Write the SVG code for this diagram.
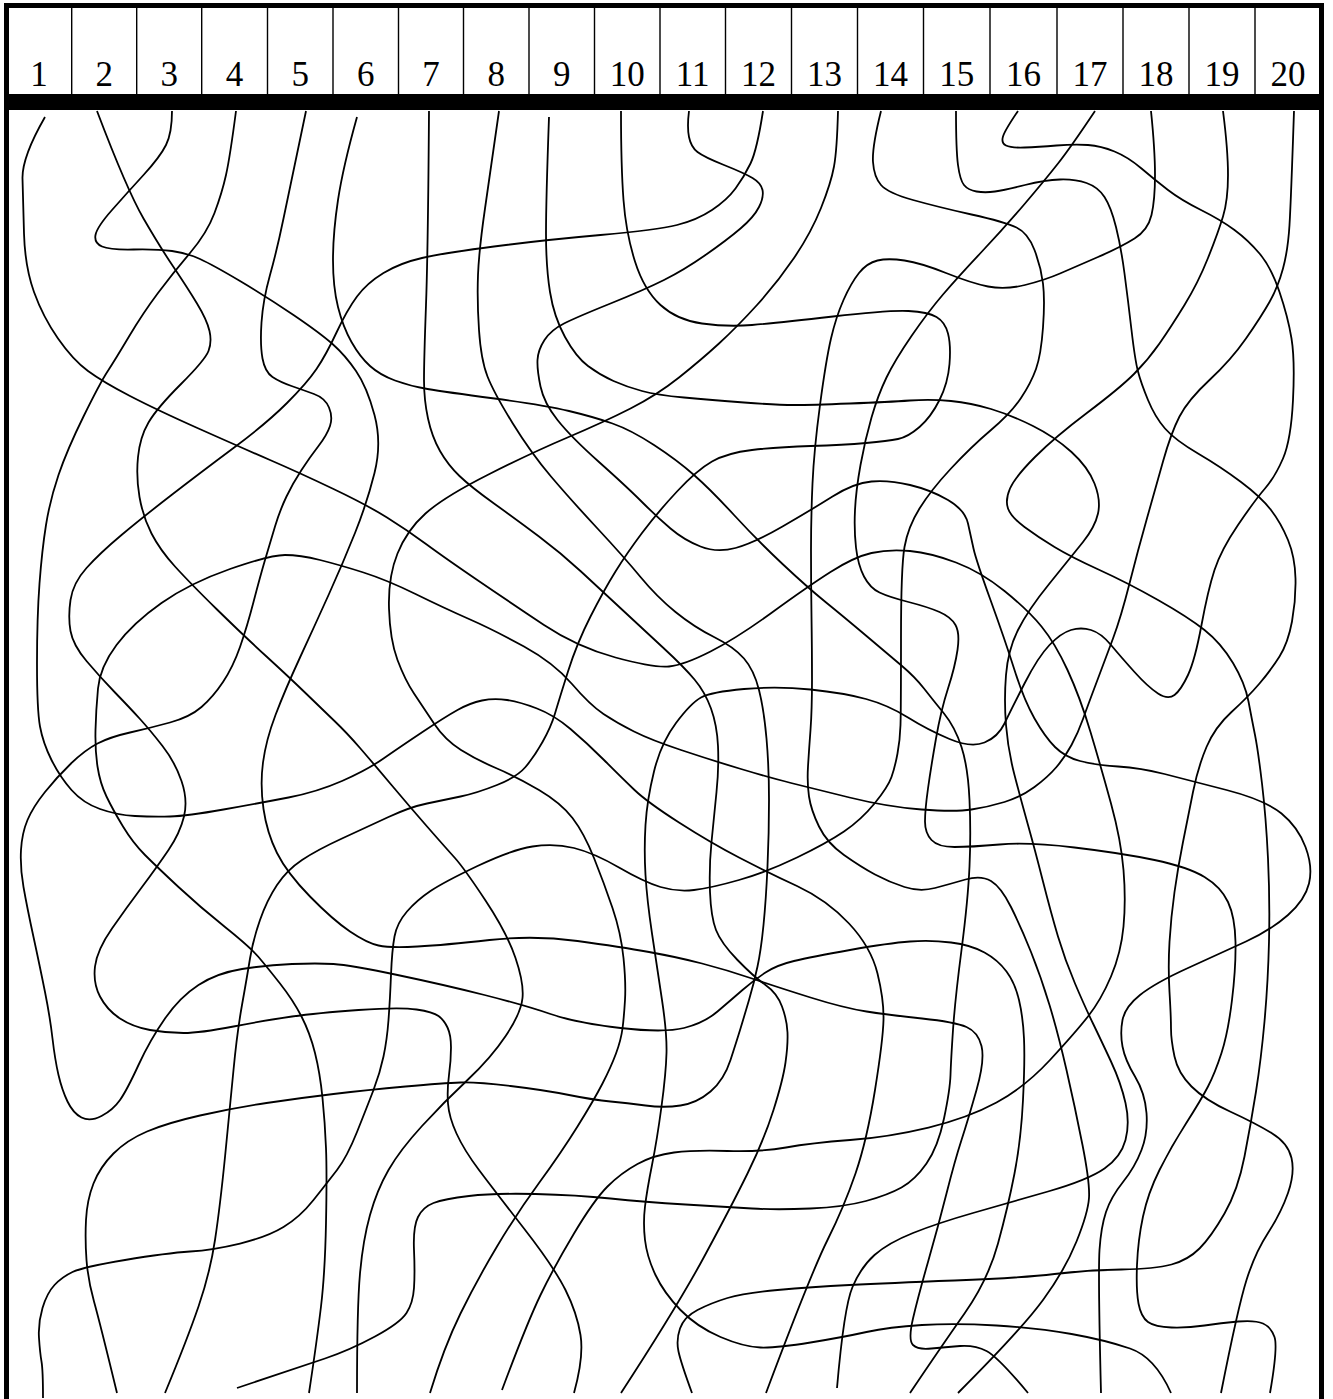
<svg xmlns="http://www.w3.org/2000/svg" width="1333" height="1399" viewBox="0 0 1333 1399">
<style>
.frame{fill:#000}
.div{stroke:#000;stroke-width:1.4;fill:none}
.num{font-family:"Liberation Serif","Times New Roman",serif;font-size:35px;text-anchor:middle;fill:#000}
.ln{fill:none;stroke:#000;stroke-width:1.8;stroke-linejoin:round}
</style>
<rect width="1333" height="1399" fill="#fff"/>
<g id="frame" class="frame">
<rect x="4" y="3" width="1320" height="5"/>
<rect x="4" y="3" width="5" height="1396"/>
<rect x="1319" y="3" width="5" height="1396"/>
<rect x="4" y="94" width="1320" height="16"/>
<path class="div" d="M71.7 8V94M136.7 8V94M201.7 8V94M267.5 8V94M333 8V94M398.5 8V94M463.5 8V94M529 8V94M594.5 8V94M660 8V94M725.5 8V94M791.5 8V94M857.5 8V94M923.5 8V94M990 8V94M1057 8V94M1123 8V94M1189 8V94M1255 8V94"/>
</g>
<g id="header">
<g id="cell-1"><text class="num" x="39" y="86">1</text></g>
<g id="cell-2"><text class="num" x="104.2" y="86">2</text></g>
<g id="cell-3"><text class="num" x="169.2" y="86">3</text></g>
<g id="cell-4"><text class="num" x="234.6" y="86">4</text></g>
<g id="cell-5"><text class="num" x="300.2" y="86">5</text></g>
<g id="cell-6"><text class="num" x="365.7" y="86">6</text></g>
<g id="cell-7"><text class="num" x="431" y="86">7</text></g>
<g id="cell-8"><text class="num" x="496.2" y="86">8</text></g>
<g id="cell-9"><text class="num" x="561.7" y="86">9</text></g>
<g id="cell-10"><text class="num" x="627.2" y="86">10</text></g>
<g id="cell-11"><text class="num" x="692.7" y="86">11</text></g>
<g id="cell-12"><text class="num" x="758.5" y="86">12</text></g>
<g id="cell-13"><text class="num" x="824.5" y="86">13</text></g>
<g id="cell-14"><text class="num" x="890.5" y="86">14</text></g>
<g id="cell-15"><text class="num" x="956.7" y="86">15</text></g>
<g id="cell-16"><text class="num" x="1023.5" y="86">16</text></g>
<g id="cell-17"><text class="num" x="1090" y="86">17</text></g>
<g id="cell-18"><text class="num" x="1156" y="86">18</text></g>
<g id="cell-19"><text class="num" x="1222" y="86">19</text></g>
<g id="cell-20"><text class="num" x="1288" y="86">20</text></g>
</g>
<g id="connectors">
<path id="line-1" class="ln" d="M45,117 Q22,157 22.5,178.5 Q23,200 24,233.5 Q25,267 34,292 Q43,317 58,338.5 Q73,360 88,371 Q103,382 130,396 Q157,410 198.5,428.5 Q240,447 270,460 Q300,473 333.5,489 Q367,505 387,517.5 Q407,530 426,544 Q445,558 478,580.5 Q511,603 544,625 Q577,647 615.5,657.5 Q654,668 669,666.5 Q684,665 710.5,651.5 Q737,638 772,612.5 Q807,587 830.5,572 Q854,557 871.5,553 Q889,549 910,551 Q931,553 956,562.5 Q981,572 1004.5,591 Q1028,610 1041.5,626.5 Q1055,643 1067.5,670 Q1080,697 1090.5,732 Q1101,767 1111,803.5 Q1121,840 1123.5,870 Q1126,900 1123.5,926.5 Q1121,953 1111,976.5 Q1101,1000 1088,1016.5 Q1075,1033 1050,1060 Q1025,1087 996.5,1102.5 Q968,1118 928.5,1127.5 Q889,1137 850,1140 Q811,1143 786,1147.5 Q761,1152 727.5,1151 Q694,1150 674,1152.5 Q654,1155 637.5,1164 Q621,1173 607.5,1186.5 Q594,1200 574,1233.5 Q554,1267 540.5,1295 Q527,1323 502,1390"/>
<path id="line-2" class="ln" d="M97,111 Q127,190 143.5,218.5 Q160,247 173.5,267 Q187,287 197,303.5 Q207,320 209.5,331 Q212,342 208.5,351 Q205,360 181,384 Q157,408 148.5,422.5 Q140,437 138,457 Q136,477 139.5,497 Q143,517 151.5,533.5 Q160,550 175,566.5 Q190,583 216.5,609 Q243,635 266.5,656.5 Q290,678 306.5,694 Q323,710 335,721.5 Q347,733 360,748 Q373,763 391.5,785 Q410,807 427.5,827 Q445,847 454.5,857.5 Q464,868 485.5,900.5 Q507,933 515.5,958 Q524,983 522.5,998 Q521,1013 506,1035.5 Q491,1058 467.5,1080 Q444,1102 422,1126 Q400,1150 388.5,1170 Q377,1190 370,1215 Q363,1240 360,1273.5 Q357,1307 357,1393"/>
<path id="line-3" class="ln" d="M172,111 Q172,133 166,145 Q160,157 143.5,175 Q127,193 112,210 Q97,227 95.5,235 Q94,243 102,246.5 Q110,250 133.5,249.5 Q157,249 172,251 Q187,253 200,259 Q213,265 240,281 Q267,297 293.5,315 Q320,333 332.5,344 Q345,355 356,371 Q367,387 374.5,415 Q382,443 374.5,473 Q367,503 355,533 Q343,563 329,594 Q315,625 300,657.5 Q285,690 275.5,715 Q266,740 263,762.5 Q260,785 263.5,809 Q267,833 277,853 Q287,873 310,896.5 Q333,920 350,931.5 Q367,943 378.5,945.5 Q390,948 417.5,946.5 Q445,945 489.5,940 Q534,935 577.5,941 Q621,947 649,952 Q677,957 702,963.5 Q727,970 752,978.5 Q777,987 810.5,997.5 Q844,1008 866.5,1011.5 Q889,1015 922,1018.5 Q955,1022 966.5,1027 Q978,1032 981.5,1046 Q985,1060 976.5,1090 Q968,1120 961.5,1140 Q955,1160 946.5,1193.5 Q938,1227 928,1262 Q918,1297 913,1318.5 Q908,1340 913,1345 Q918,1350 931.5,1348.5 Q945,1347 960,1346 Q975,1345 986.5,1351 Q998,1357 1028,1393"/>
<path id="line-4" class="ln" d="M236,111 Q230,157 226,175 Q222,193 214.5,213 Q207,233 190,253 Q173,273 158,293 Q143,313 129,336.5 Q115,360 107.5,371.5 Q100,383 83.5,416.5 Q67,450 58.5,475 Q50,500 46,525 Q42,550 39.5,583.5 Q37,617 37,663.5 Q37,710 40,726.5 Q43,743 51.5,760 Q60,777 71.5,790 Q83,803 100,809 Q117,815 135,816 Q153,817 170,816.5 Q187,816 223.5,809.5 Q260,803 288.5,797.5 Q317,792 342,781 Q367,770 383.5,758.5 Q400,747 422.5,732 Q445,717 457.5,710 Q470,703 482,700.5 Q494,698 507,700 Q520,702 537,708.5 Q554,715 570.5,729 Q587,743 604,760 Q621,777 634,789.5 Q647,802 679,822.5 Q711,843 739,857.5 Q767,872 797,886 Q827,900 849,923.5 Q871,947 877.5,973.5 Q884,1000 883.5,1020 Q883,1040 875,1090 Q867,1140 855.5,1173.5 Q844,1207 827.5,1240 Q811,1273 766,1393"/>
<path id="line-5" class="ln" d="M306,111 Q290,187 283.5,218.5 Q277,250 270,275 Q263,300 261.5,322.5 Q260,345 262.5,358.5 Q265,372 272.5,377 Q280,382 291.5,386 Q303,390 314,394 Q325,398 329,407.5 Q333,417 330,426 Q327,435 318.5,446 Q310,457 301.5,470 Q293,483 286.5,496.5 Q280,510 275,526.5 Q270,543 265,560 Q260,577 253.5,602 Q247,627 240,647 Q233,667 223,682 Q213,697 201.5,707 Q190,717 170,722.5 Q150,728 130,732.5 Q110,737 97.5,743.5 Q85,750 71,763.5 Q57,777 45,792 Q33,807 27.5,820 Q22,833 21,850 Q20,867 23.5,887 Q27,907 33.5,937 Q40,967 45,992 Q50,1017 52.5,1038.5 Q55,1060 58.5,1075 Q62,1090 67.5,1101.5 Q73,1113 81.5,1117.5 Q90,1122 101.5,1116 Q113,1110 120,1100 Q127,1090 138.5,1065 Q150,1040 165,1018.5 Q180,997 198.5,985 Q217,973 242,969 Q267,965 292,964 Q317,963 333.5,964 Q350,965 397.5,975 Q445,985 484.5,995 Q524,1005 550.5,1014 Q577,1023 620.5,1028 Q664,1033 684,1028 Q704,1023 717.5,1011.5 Q731,1000 742.5,990 Q754,980 765.5,972.5 Q777,965 794,961 Q811,957 850,950 Q889,943 910,941.5 Q931,940 951,942.5 Q971,945 984.5,952.5 Q998,960 1006.5,971.5 Q1015,983 1019,1000 Q1023,1017 1024,1038.5 Q1025,1060 1023,1100 Q1021,1140 1014.5,1173.5 Q1008,1207 998,1243.5 Q988,1280 964.5,1313.5 Q941,1347 910,1393"/>
<path id="line-6" class="ln" d="M357,117 Q343,167 338,200 Q333,233 333,260 Q333,287 338,307 Q343,327 351.5,342 Q360,357 370,366 Q380,375 395,380.5 Q410,386 427.5,389 Q445,392 494.5,398.5 Q544,405 569,411 Q594,417 612.5,423.5 Q631,430 654,445 Q677,460 694,475 Q711,490 734,515 Q757,540 782,563.5 Q807,587 825.5,602 Q844,617 866.5,636 Q889,655 902,666 Q915,677 924,688.5 Q933,700 944,713.5 Q955,727 961.5,747 Q968,767 969.5,800 Q971,833 969.5,866.5 Q968,900 961.5,950 Q955,1000 953,1030 Q951,1060 950.5,1075 Q950,1090 944,1118.5 Q938,1147 926.5,1163.5 Q915,1180 901.5,1187.5 Q888,1195 866,1201 Q844,1207 810.5,1208.5 Q777,1210 752,1208.5 Q727,1207 685.5,1204.5 Q644,1202 610.5,1198.5 Q577,1195 535.5,1194 Q494,1193 469,1196 Q444,1199 433.5,1203 Q423,1207 418,1217 Q413,1227 414,1250 Q415,1273 414,1288 Q413,1303 406.5,1313 Q400,1323 375,1336.5 Q350,1350 325,1358.5 Q300,1367 237,1388"/>
<path id="line-7" class="ln" d="M429,111 Q428,250 426,305 Q424,360 424,380 Q424,400 428,418.5 Q432,437 440,451 Q448,465 459.5,476 Q471,487 494,503.5 Q517,520 539,536.5 Q561,553 581,571.5 Q601,590 622.5,610 Q644,630 664,648.5 Q684,667 694.5,679.5 Q705,692 711,708.5 Q717,725 718,746 Q719,767 716.5,792 Q714,817 711.5,842 Q709,867 710,892 Q711,917 716,930 Q721,943 737.5,960 Q754,977 765.5,985 Q777,993 782,1006.5 Q787,1020 787.5,1032.5 Q788,1045 785.5,1062.5 Q783,1080 773.5,1110 Q764,1140 747.5,1173.5 Q731,1207 704,1257 Q677,1307 621,1393"/>
<path id="line-8" class="ln" d="M499,111 Q491,167 485,208.5 Q479,250 478,275 Q477,300 479,330 Q481,360 487.5,376.5 Q494,393 512.5,423 Q531,453 551,476.5 Q571,500 597.5,528.5 Q624,557 640.5,577 Q657,597 675.5,612 Q694,627 714,637 Q734,647 744,658.5 Q754,670 759,690 Q764,710 766.5,738.5 Q769,767 769,800 Q769,833 767.5,866.5 Q766,900 763.5,925 Q761,950 757.5,966.5 Q754,983 749,1000 Q744,1017 740.5,1028.5 Q737,1040 730.5,1060 Q724,1080 710.5,1091.5 Q697,1103 680.5,1105.5 Q664,1108 645.5,1105.5 Q627,1103 610.5,1101.5 Q594,1100 569,1095 Q544,1090 510.5,1086 Q477,1082 460.5,1082.5 Q444,1083 405.5,1086.5 Q367,1090 333.5,1094 Q300,1098 266.5,1103 Q233,1108 200,1115.5 Q167,1123 147,1131.5 Q127,1140 113.5,1153.5 Q100,1167 93.5,1183.5 Q87,1200 86,1220 Q85,1240 86.5,1260 Q88,1280 94,1301.5 Q100,1323 117,1393"/>
<path id="line-9" class="ln" d="M549,117 Q546,200 546,233.5 Q546,267 550,292 Q554,317 565,337 Q576,357 588,366 Q600,375 613.5,381 Q627,387 642,391 Q657,395 684,397.5 Q711,400 744,402.5 Q777,405 794,405 Q811,405 850,403.5 Q889,402 910,400.5 Q931,399 951,401 Q971,403 991,409 Q1011,415 1033,426 Q1055,437 1071.5,452 Q1088,467 1094.5,483.5 Q1101,500 1098,513.5 Q1095,527 1083,542 Q1071,557 1049.5,583.5 Q1028,610 1018,630 Q1008,650 1006,675 Q1004,700 1006,725 Q1008,750 1014.5,775 Q1021,800 1028,825 Q1035,850 1043,881.5 Q1051,913 1058,936.5 Q1065,960 1075,983.5 Q1085,1007 1093,1023.5 Q1101,1040 1111,1061.5 Q1121,1083 1125.5,1103 Q1130,1123 1125.5,1140 Q1121,1157 1104.5,1168.5 Q1088,1180 1048,1191.5 Q1008,1203 973,1213 Q938,1223 913,1233 Q888,1243 874.5,1255 Q861,1267 852.5,1287 Q844,1307 837,1388"/>
<path id="line-10" class="ln" d="M621,111 Q621,167 623.5,200 Q626,233 635,261.5 Q644,290 660.5,305 Q677,320 702,323.5 Q727,327 752,325 Q777,323 833,316.5 Q889,310 908.5,311 Q928,312 936.5,317 Q945,322 948,333.5 Q951,345 949.5,364 Q948,383 939.5,400 Q931,417 919.5,427 Q908,437 898,439 Q888,441 866,443 Q844,445 810.5,446 Q777,447 752,450 Q727,453 712,461.5 Q697,470 677,491.5 Q657,513 642,533 Q627,553 615.5,571.5 Q604,590 590.5,616.5 Q577,643 568,671.5 Q559,700 555,713.5 Q551,727 542.5,742 Q534,757 525.5,767 Q517,777 497,785 Q477,793 460.5,796.5 Q444,800 427,803.5 Q410,807 388.5,817 Q367,827 342,838.5 Q317,850 302,860 Q287,870 277,885 Q267,900 260,920 Q253,940 250,958.5 Q247,977 242,1005 Q237,1033 233.5,1070 Q230,1107 225,1157 Q220,1207 215,1240 Q210,1273 198.5,1306.5 Q187,1340 165,1393"/>
<path id="line-11" class="ln" d="M689,111 Q687,127 689,137 Q691,147 697.5,152 Q704,157 724,165 Q744,173 752.5,178 Q761,183 762.5,190 Q764,197 759,207 Q754,217 740.5,228.5 Q727,240 705.5,255 Q684,270 664,280 Q644,290 610.5,303.5 Q577,317 564,323.5 Q551,330 544.5,340 Q538,350 537.5,360 Q537,370 540.5,386.5 Q544,403 557.5,420 Q571,437 599,462 Q627,487 642,502 Q657,517 670.5,528.5 Q684,540 700.5,546.5 Q717,553 735.5,548 Q754,543 782.5,526.5 Q811,510 832.5,496.5 Q854,483 871.5,481.5 Q889,480 910,485 Q931,490 948,500 Q965,510 968,523.5 Q971,537 973.5,548.5 Q976,560 990.5,600 Q1005,640 1014.5,670 Q1024,700 1034.5,718.5 Q1045,737 1055,747 Q1065,757 1080,761 Q1095,765 1118,766.5 Q1141,768 1164.5,774 Q1188,780 1226.5,790 Q1265,800 1281.5,813.5 Q1298,827 1305.5,847 Q1313,867 1309,883.5 Q1305,900 1288,915 Q1271,930 1246,941.5 Q1221,953 1188,968 Q1155,983 1140,995 Q1125,1007 1122.5,1020 Q1120,1033 1122.5,1046.5 Q1125,1060 1135,1076.5 Q1145,1093 1146.5,1113 Q1148,1133 1141.5,1150 Q1135,1167 1123,1182 Q1111,1197 1106,1212 Q1101,1227 1099.5,1250 Q1098,1273 1101,1393"/>
<path id="line-12" class="ln" d="M763,111 Q757,150 750.5,163.5 Q744,177 735.5,188.5 Q727,200 712,210 Q697,220 677,225 Q657,230 600.5,235 Q544,240 494,246.5 Q444,253 422,258 Q400,263 383.5,273 Q367,283 357,296.5 Q347,310 336.5,332.5 Q326,355 316.5,369 Q307,383 287,403 Q267,423 233.5,448 Q200,473 171.5,495 Q143,517 121.5,535 Q100,553 86.5,568 Q73,583 70.5,600 Q68,617 70.5,631 Q73,645 86.5,661 Q100,677 115,692.5 Q130,708 140,719 Q150,730 162.5,746 Q175,762 181.5,781 Q188,800 184,816.5 Q180,833 168.5,850 Q157,867 142,887 Q127,907 112,928.5 Q97,950 95,966.5 Q93,983 100,996.5 Q107,1010 120,1018.5 Q133,1027 150,1030 Q167,1033 183.5,1033 Q200,1033 233.5,1026.5 Q267,1020 292,1016.5 Q317,1013 358.5,1010 Q400,1007 416.5,1009.5 Q433,1012 438.5,1016 Q444,1020 447.5,1027.5 Q451,1035 451,1047.5 Q451,1060 449,1075 Q447,1090 448,1103.5 Q449,1117 456.5,1133.5 Q464,1150 479,1170 Q494,1190 524,1228.5 Q554,1267 565.5,1290 Q577,1313 580.5,1335 Q584,1357 574,1393"/>
<path id="line-13" class="ln" d="M838,111 Q837,150 834,166.5 Q831,183 821,208 Q811,233 794,258 Q777,283 757,305 Q737,327 719,343.5 Q701,360 679,377.5 Q657,395 630.5,408.5 Q604,422 567.5,437.5 Q531,453 487.5,475 Q444,497 425.5,513.5 Q407,530 397.5,553.5 Q388,577 389,608.5 Q390,640 397.5,660 Q405,680 414,693.5 Q423,707 434,723.5 Q445,740 461,750 Q477,760 497,768.5 Q517,777 539,790 Q561,803 572.5,818 Q584,833 594,858 Q604,883 612.5,908 Q621,933 623.5,958 Q626,983 625,1000 Q624,1017 622.5,1028.5 Q621,1040 616,1053.5 Q611,1067 602.5,1083.5 Q594,1100 577.5,1126.5 Q561,1153 539,1183 Q517,1213 497,1246.5 Q477,1280 460.5,1313.5 Q444,1347 430,1393"/>
<path id="line-14" class="ln" d="M881,111 Q872,147 873,162 Q874,177 881,185 Q888,193 913,200 Q938,207 971.5,214.5 Q1005,222 1016.5,227.5 Q1028,233 1034.5,250 Q1041,267 1043,283.5 Q1045,300 1043,327.5 Q1041,355 1036,369 Q1031,383 1021,398 Q1011,413 991,430 Q971,447 951,468.5 Q931,490 919.5,508.5 Q908,527 904.5,547 Q901,567 901,638.5 Q901,710 900.5,725 Q900,740 897.5,753.5 Q895,767 891.5,777 Q888,787 874.5,803.5 Q861,820 844,831.5 Q827,843 797,857.5 Q767,872 739,880 Q711,888 694,890 Q677,892 660.5,887 Q644,882 619,867.5 Q594,853 574,848 Q554,843 532.5,846.5 Q511,850 477.5,866 Q444,882 430.5,891 Q417,900 407,911.5 Q397,923 394.5,936.5 Q392,950 391,975 Q390,1000 388.5,1020 Q387,1040 383.5,1056.5 Q380,1073 373.5,1090 Q367,1107 357,1132 Q347,1157 337,1170 Q327,1183 313.5,1200 Q300,1217 283.5,1227 Q267,1237 240,1243.5 Q213,1250 190,1251.5 Q167,1253 125,1260 Q83,1267 72.5,1272 Q62,1277 54.5,1285 Q47,1293 42.5,1308 Q38,1323 39,1338 Q40,1353 41.5,1361.5 Q43,1370 43,1398"/>
<path id="line-15" class="ln" d="M956,111 Q956,150 958,165 Q960,180 964,185 Q968,190 976.5,191.5 Q985,193 995,191.5 Q1005,190 1025,185 Q1045,180 1060,179.5 Q1075,179 1086.5,183 Q1098,187 1104.5,197 Q1111,207 1116,227 Q1121,247 1124.5,273.5 Q1128,300 1131.5,330 Q1135,360 1138,371.5 Q1141,383 1148,400 Q1155,417 1165,428.5 Q1175,440 1198,453.5 Q1221,467 1241,482 Q1261,497 1271,510 Q1281,523 1288,540 Q1295,557 1295.5,578.5 Q1296,600 1292,621.5 Q1288,643 1279.5,656.5 Q1271,670 1259.5,683.5 Q1248,697 1231.5,712 Q1215,727 1206.5,747 Q1198,767 1193,792 Q1188,817 1183,842 Q1178,867 1174.5,892 Q1171,917 1169.5,942 Q1168,967 1169.5,992 Q1171,1017 1171,1028.5 Q1171,1040 1174.5,1056.5 Q1178,1073 1191.5,1086.5 Q1205,1100 1230,1111.5 Q1255,1123 1271.5,1133 Q1288,1143 1291.5,1158 Q1295,1173 1288,1193 Q1281,1213 1268,1233 Q1255,1253 1246.5,1280 Q1238,1307 1221,1393"/>
<path id="line-16" class="ln" d="M1018,111 Q1005,130 1003,136.5 Q1001,143 1006,145.5 Q1011,148 1024.5,147.5 Q1038,147 1056.5,145.5 Q1075,144 1088,145 Q1101,146 1114.5,151.5 Q1128,157 1141.5,168.5 Q1155,180 1168,190 Q1181,200 1201,210 Q1221,220 1234.5,230 Q1248,240 1259.5,253.5 Q1271,267 1279.5,292 Q1288,317 1291.5,338.5 Q1295,360 1293,400 Q1291,440 1283,458.5 Q1275,477 1265,488.5 Q1255,500 1238,525 Q1221,550 1214.5,570 Q1208,590 1201.5,625 Q1195,660 1188,675 Q1181,690 1174.5,695 Q1168,700 1158,693.5 Q1148,687 1134.5,672 Q1121,657 1111,645 Q1101,633 1091,630 Q1081,627 1071,630 Q1061,633 1049.5,645 Q1038,657 1024.5,683.5 Q1011,710 1004.5,723.5 Q998,737 984.5,742.5 Q971,748 949.5,739 Q928,730 908,717.5 Q888,705 866,699 Q844,693 810.5,689.5 Q777,686 744,689 Q711,692 701,697.5 Q691,703 676,723 Q661,743 654,771.5 Q647,800 645.5,825 Q644,850 645.5,875 Q647,900 652,933.5 Q657,967 662,1000 Q667,1033 666.5,1053 Q666,1073 661.5,1106.5 Q657,1140 652,1165 Q647,1190 645,1206.5 Q643,1223 645,1240 Q647,1257 655.5,1275 Q664,1293 680.5,1310 Q697,1327 720.5,1337 Q744,1347 760.5,1347.5 Q777,1348 810.5,1342.5 Q844,1337 866.5,1332 Q889,1327 922,1325 Q955,1323 996.5,1325.5 Q1038,1328 1071.5,1334 Q1105,1340 1130,1348.5 Q1155,1357 1171,1393"/>
<path id="line-17" class="ln" d="M1095,111 Q1071,147 1058,163.5 Q1045,180 1025,203.5 Q1005,227 981.5,252 Q958,277 943,294.5 Q928,312 911.5,336 Q895,360 886.5,377.5 Q878,395 871.5,417.5 Q865,440 860.5,465 Q856,490 855,510 Q854,530 856,547.5 Q858,565 864,576.5 Q870,588 879.5,592.5 Q889,597 908.5,602 Q928,607 939.5,612 Q951,617 955.5,625 Q960,633 957.5,650 Q955,667 948,688.5 Q941,710 936,738.5 Q931,767 928,788.5 Q925,810 925,821.5 Q925,833 931.5,840 Q938,847 954.5,847 Q971,847 999.5,844.5 Q1028,842 1074.5,847.5 Q1121,853 1154.5,860 Q1188,867 1204.5,877 Q1221,887 1228,902 Q1235,917 1235.5,942 Q1236,967 1232,1000 Q1228,1033 1221.5,1053 Q1215,1073 1208,1086.5 Q1201,1100 1186,1123.5 Q1171,1147 1159.5,1170 Q1148,1193 1143,1216.5 Q1138,1240 1137,1265 Q1136,1290 1138.5,1303.5 Q1141,1317 1148,1322 Q1155,1327 1171.5,1327.5 Q1188,1328 1204.5,1325.5 Q1221,1323 1238,1321.5 Q1255,1320 1263,1323.5 Q1271,1327 1274.5,1337 Q1278,1347 1270,1393"/>
<path id="line-18" class="ln" d="M1151,111 Q1155,150 1155,175 Q1155,200 1151.5,215 Q1148,230 1134.5,238.5 Q1121,247 1098,257 Q1075,267 1060,273.5 Q1045,280 1025,285 Q1005,290 988,286.5 Q971,283 946,273 Q921,263 904.5,260.5 Q888,258 877.5,260.5 Q867,263 859,273 Q851,283 843.5,300 Q836,317 831,338.5 Q826,360 820,405 Q814,450 812.5,483.5 Q811,517 811,550 Q811,583 811.5,616.5 Q812,650 812,680 Q812,710 810.5,730 Q809,750 808,766.5 Q807,783 809,796.5 Q811,810 819,826.5 Q827,843 844,855 Q861,867 875,874.5 Q889,882 904.5,887 Q920,892 935,888 Q950,884 965.5,879.5 Q981,875 991,881 Q1001,887 1011,907 Q1021,927 1031,952 Q1041,977 1049.5,1005 Q1058,1033 1066.5,1070 Q1075,1107 1082.5,1145 Q1090,1183 1089,1198 Q1088,1213 1076.5,1241.5 Q1065,1270 1043,1300 Q1021,1330 958,1393"/>
<path id="line-19" class="ln" d="M1223,111 Q1228,150 1228,175 Q1228,200 1223,216.5 Q1218,233 1208,258 Q1198,283 1184.5,305 Q1171,327 1159.5,343.5 Q1148,360 1134,374 Q1120,388 1087.5,412.5 Q1055,437 1035,457 Q1015,477 1010,488.5 Q1005,500 1008,508.5 Q1011,517 1024.5,527 Q1038,537 1054.5,547 Q1071,557 1099.5,570 Q1128,583 1158,600 Q1188,617 1204.5,630 Q1221,643 1233,663 Q1245,683 1248.5,701.5 Q1252,720 1255,735 Q1258,750 1262,783.5 Q1266,817 1268,858.5 Q1270,900 1269,941.5 Q1268,983 1264.5,1021.5 Q1261,1060 1256,1091.5 Q1251,1123 1244.5,1156.5 Q1238,1190 1224.5,1213.5 Q1211,1237 1199.5,1248.5 Q1188,1260 1171.5,1264.5 Q1155,1269 1121.5,1269.5 Q1088,1270 1054.5,1274 Q1021,1278 954.5,1280.5 Q888,1283 849.5,1285 Q811,1287 777.5,1290 Q744,1293 727.5,1298 Q711,1303 697.5,1310 Q684,1317 680,1328.5 Q676,1340 678.5,1351.5 Q681,1363 692,1393"/>
<path id="line-20" class="ln" d="M1294,111 Q1291,200 1289.5,225 Q1288,250 1283,268.5 Q1278,287 1269.5,302 Q1261,317 1246,338.5 Q1231,360 1209.5,380 Q1188,400 1179.5,416.5 Q1171,433 1163,461.5 Q1155,490 1146.5,520 Q1138,550 1129.5,583.5 Q1121,617 1113,638.5 Q1105,660 1096.5,682.5 Q1088,705 1083,719 Q1078,733 1071.5,745 Q1065,757 1056.5,767 Q1048,777 1034.5,787 Q1021,797 1004.5,802 Q988,807 971.5,809.5 Q955,812 921.5,809.5 Q888,807 849.5,797.5 Q811,788 791,783 Q771,778 741,769 Q711,760 681,750 Q651,740 634,731.5 Q617,723 603.5,714 Q590,705 572,684 Q554,663 524,646.5 Q494,630 469,619 Q444,608 415.5,594 Q387,580 363.5,572.5 Q340,565 320,560 Q300,555 285,555 Q270,555 230,569 Q190,583 161.5,603 Q133,623 116.5,645 Q100,667 98,688.5 Q96,710 95.5,730 Q95,750 97.5,766.5 Q100,783 106.5,796.5 Q113,810 123,826.5 Q133,843 145,855 Q157,867 178.5,887 Q200,907 225,927 Q250,947 258.5,957 Q267,967 280,983.5 Q293,1000 301.5,1016.5 Q310,1033 315,1053 Q320,1073 322.5,1098 Q325,1123 326,1148 Q327,1173 326,1223 Q325,1273 321,1306.5 Q317,1340 309,1393"/>
</g>
</svg>
